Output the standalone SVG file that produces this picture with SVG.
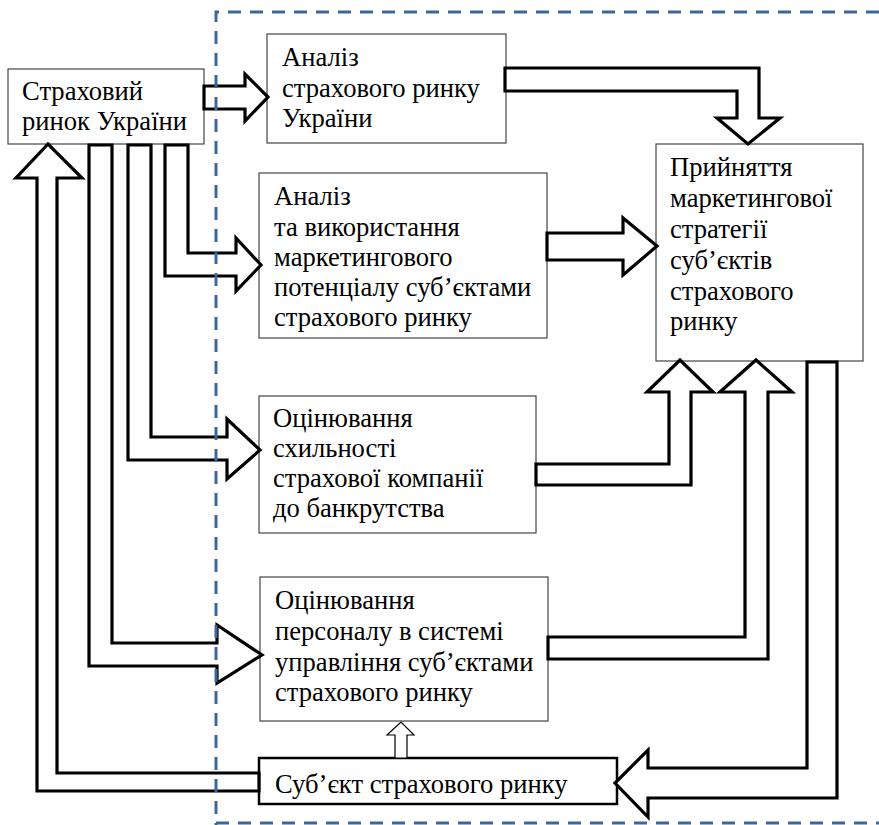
<svg xmlns="http://www.w3.org/2000/svg" width="879" height="825" viewBox="0 0 879 825">
<style>
.box{fill:#fff;stroke:#444;stroke-width:1.2}
.box2{fill:#fff;stroke:#000;stroke-width:2.5}
.t{font-family:"Liberation Serif","Times New Roman",serif;font-size:26.6px;fill:#000}
.arr{fill:#fff;stroke:#000;stroke-width:3.2;stroke-linejoin:miter}
.arr-thin{fill:#fff;stroke:#000;stroke-width:1.2}
.dash{fill:none;stroke:#3d679b;stroke-width:3;stroke-dasharray:13 9}
</style>
<rect width="879" height="825" fill="#fff"/>
<g id="n-market">
<rect class="box" x="8" y="69" width="196" height="75"/>
<text class="t" x="22" y="100">Страховий</text>
<text class="t" x="22" y="130">ринок України</text>
</g>
<g id="n-analysis">
<rect class="box" x="267" y="34" width="239" height="109"/>
<text class="t" x="282" y="66">Аналіз</text>
<text class="t" x="282" y="97">страхового ринку</text>
<text class="t" x="282" y="127">України</text>
</g>
<g id="n-potential">
<rect class="box" x="259" y="173" width="288" height="165"/>
<text class="t" x="274" y="205">Аналіз</text>
<text class="t" x="274" y="236">та використання</text>
<text class="t" x="274" y="266">маркетингового</text>
<text class="t" x="274" y="296">потенціалу суб’єктами</text>
<text class="t" x="274" y="326">страхового ринку</text>
</g>
<g id="n-strategy">
<rect class="box" x="656" y="144" width="207" height="217"/>
<text class="t" x="670" y="176">Прийняття</text>
<text class="t" x="670" y="207">маркетингової</text>
<text class="t" x="670" y="238">стратегії</text>
<text class="t" x="670" y="269">суб’єктів</text>
<text class="t" x="670" y="300">страхового</text>
<text class="t" x="670" y="330">ринку</text>
</g>
<g id="n-bankruptcy">
<rect class="box" x="259" y="396" width="277" height="137"/>
<text class="t" x="273" y="427">Оцінювання</text>
<text class="t" x="273" y="457">схильності</text>
<text class="t" x="273" y="487">страхової компанії</text>
<text class="t" x="273" y="517">до банкрутства</text>
</g>
<g id="n-personnel">
<rect class="box" x="260" y="577" width="288" height="144"/>
<text class="t" x="275" y="609">Оцінювання</text>
<text class="t" x="275" y="640">персоналу в системі</text>
<text class="t" x="275" y="671">управління суб’єктами</text>
<text class="t" x="275" y="701">страхового ринку</text>
</g>
<g id="n-subject">
<rect class="box2" x="259" y="758" width="358" height="46"/>
<text class="t" x="275" y="793">Суб’єкт страхового ринку</text>
</g>
<g id="connectors">
<polygon class="arr" points="204,86 245,86 245,74 268,97 245,121 245,109 204,109"/>
<polygon class="arr" points="505,68 759,68 759,118 780,118 748,144 717,118 737,118 737,91 505,91"/>
<polygon class="arr" points="547,233 623,233 623,218 657,246 623,275 623,260 547,260"/>
<polygon class="arr" points="536,464 669,464 669,392 647,392 680,360 713,392 691,392 691,485 536,485"/>
<polygon class="arr" points="548,637 745,637 745,392 720,392 756,360 792,392 768,392 768,659 548,659"/>
<polygon class="arr" points="807,362 837,362 837,798 648,798 648,817 615,783 648,750 648,768 807,768"/>
<polygon class="arr-thin" points="395,758 395,735 387,735 401,722 414,735 407,735 407,758"/>
<polygon class="arr" points="259,773 57,773 57,178 82,178 48,144 16,178 37,178 37,791 259,791"/>
<polygon class="arr" points="165,145 188,145 188,253 236,253 236,238 261,265 236,291 236,276 165,276"/>
<polygon class="arr" points="128,145 151,145 151,437 227,437 227,419 260,450 227,479 227,460 128,460"/>
<polygon class="arr" points="89,145 112,145 112,643 217,643 217,625 262,655 217,683 217,666 89,666"/>
</g>
<g id="boundary">
<path class="dash" d="M879,12 H216 V825"/>
<path class="dash" d="M216,823 H879"/>
</g>
</svg>
